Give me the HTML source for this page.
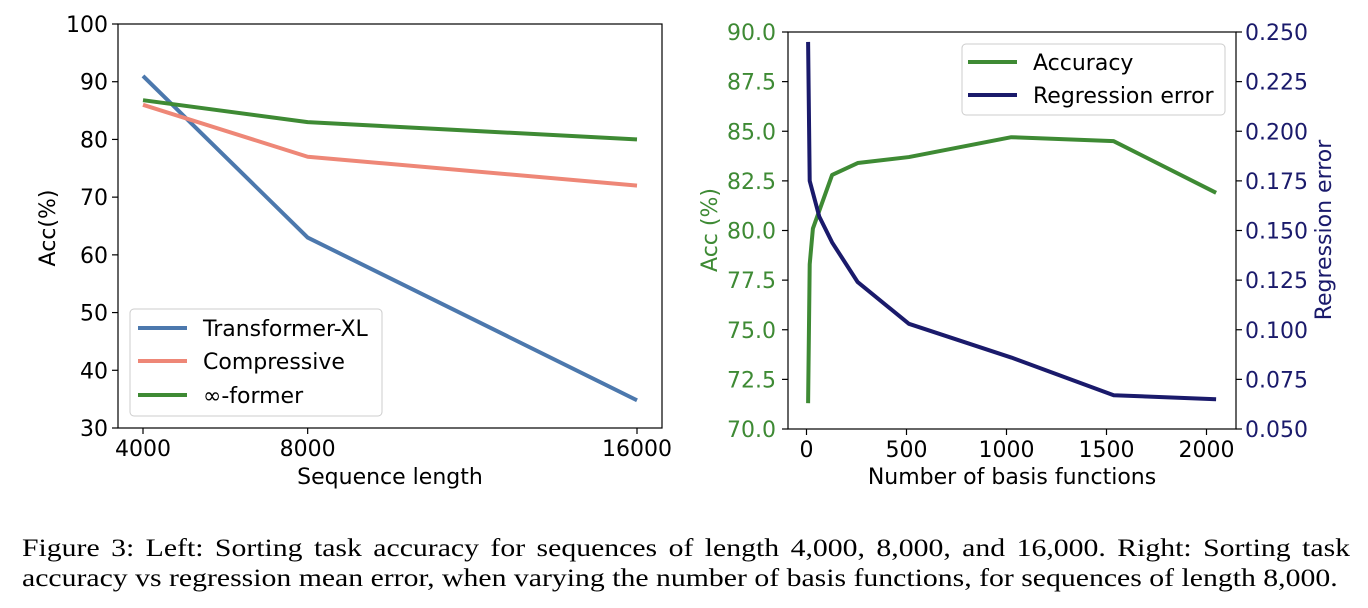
<!DOCTYPE html>
<html><head><meta charset="utf-8"><style>
body{margin:0;background:#fff;width:1368px;height:608px;overflow:hidden}
svg text{font-family:"DejaVu Sans","Liberation Sans",sans-serif}
.cap{position:absolute;left:22px;width:1116px;font-family:"Liberation Serif",serif;font-size:25px;line-height:30px;color:#000;white-space:nowrap;transform:scaleX(1.19);transform-origin:0 0}
.l1{top:534px;text-align:justify;text-align-last:justify}
.l2{top:564px}
</style></head><body>
<svg id="fig" width="1368" height="608" style="position:absolute;left:0;top:0"></svg>
<div class="cap l1">Figure 3: Left: Sorting task accuracy for sequences of length 4,000, 8,000, and 16,000. Right: Sorting task</div>
<div class="cap l2">accuracy vs regression mean error, when varying the number of basis functions, for sequences of length 8,000.</div>
<script>
const leftX=[4000,8000,16000];
const txl=[91,63,34.8];
const comp=[86,77,72];
const inf=[86.8,83,80];
const leftYTicks=[30,40,50,60,70,80,90,100];
const basisX=[8,16,32,128,256,512,1024,1536,2048];
const accY=[71.3,78.3,80.1,82.8,83.4,83.7,84.7,84.5,81.9];
const regX=[8,16,64,128,256,512,1024,1536,2048];
const regY=[0.245,0.175,0.157,0.144,0.124,0.103,0.086,0.067,0.065];
const rightXTicks=[0,500,1000,1500,2000];
const accTicks=[70,72.5,75,77.5,80,82.5,85,87.5,90];
const regTicks=[0.05,0.075,0.1,0.125,0.15,0.175,0.2,0.225,0.25];

const svg=document.getElementById('fig');
const NS='http://www.w3.org/2000/svg';
function mk(tag,a,txt){const e=document.createElementNS(NS,tag);for(const k in a)e.setAttribute(k,a[k]);if(txt!==undefined)e.textContent=txt;svg.appendChild(e);return e;}

const lx=v=>143+(v-4000)*(637-143)/12000;
const ly=v=>428-(v-30)*404/70;
let e=mk('rect',{x:118,y:24,width:544,height:404,fill:'none',stroke:'#000','stroke-width':1.2});


leftYTicks.forEach(t=>{
  const l=mk('line',{x1:112,x2:118,y1:ly(t),y2:ly(t),stroke:'#000','stroke-width':1.2});
  
  
  const tx=mk('text',{x:108,y:ly(t)+8,'text-anchor':'end','font-size':22},String(t));
  
  
});
leftX.forEach(t=>{
  const l=mk('line',{x1:lx(t),x2:lx(t),y1:428,y2:434,stroke:'#000','stroke-width':1.2});
  
  
  const tx=mk('text',{x:lx(t),y:456,'text-anchor':'middle','font-size':22},String(t));
  
  
});
function series(xs,ys,fx,fy,col,name){
  const p=mk('polyline',{points:xs.map((x,i)=>fx(x)+','+fy(ys[i])).join(' '),fill:'none',stroke:col,'stroke-width':4,'stroke-linejoin':'round'});
  
  
}
series(leftX,txl,lx,ly,'#4c78ad','transformer-xl-line');
series(leftX,comp,lx,ly,'#ee8777','compressive-line');
series(leftX,inf,lx,ly,'#3e8a34','infinity-former-line');
e=mk('text',{x:0,y:0,'font-size':22,'text-anchor':'middle',transform:'translate(55,228) rotate(-90)'},'Acc(%)');


e=mk('text',{x:390,y:484,'font-size':22,'text-anchor':'middle'},'Sequence length');


e=mk('rect',{x:130,y:309,width:252,height:107,rx:4,fill:'#fff','fill-opacity':0.85,stroke:'#ccc','stroke-width':1});


[['Transformer-XL','#4c78ad',328],['Compressive','#ee8777',361],['∞-former','#3e8a34',395]].forEach(d=>{
  const l=mk('line',{x1:138,x2:187,y1:d[2],y2:d[2],stroke:d[1],'stroke-width':4});
  
  
  const t=mk('text',{x:203,y:d[2]+8,'font-size':22},d[0]);
  
  
});

const rx=v=>806.5+v*0.2;
const ry=v=>429-(v-70)*397/20;
const ry2=v=>429-(v-0.05)*397/0.2;
e=mk('rect',{x:788,y:32,width:448,height:397,fill:'none',stroke:'#000','stroke-width':1.2});


accTicks.forEach(t=>{
  const l=mk('line',{x1:782,x2:788,y1:ry(t),y2:ry(t),stroke:'#000','stroke-width':1.2});
  
  
  const tx=mk('text',{x:776,y:ry(t)+8,'text-anchor':'end','font-size':22,fill:'#3e8a34'},t.toFixed(1));
  
  
});
regTicks.forEach(t=>{
  const l=mk('line',{x1:1236,x2:1242,y1:ry2(t),y2:ry2(t),stroke:'#000','stroke-width':1.2});
  
  
  const tx=mk('text',{x:1245,y:ry2(t)+8,'font-size':22,fill:'#1a1a6b'},t.toFixed(3));
  
  
});
rightXTicks.forEach(t=>{
  const l=mk('line',{x1:rx(t),x2:rx(t),y1:429,y2:435,stroke:'#000','stroke-width':1.2});
  
  
  const tx=mk('text',{x:rx(t),y:457,'text-anchor':'middle','font-size':22},String(t));
  
  
});
series(basisX,accY,rx,ry,'#3e8a34','accuracy-line');
series(regX,regY,rx,ry2,'#1a1a6b','regression-error-line');
e=mk('text',{x:0,y:0,'font-size':22,'text-anchor':'middle',fill:'#3e8a34',transform:'translate(717,230) rotate(-90)'},'Acc (%)');


e=mk('text',{x:0,y:0,'font-size':22,'text-anchor':'middle',fill:'#1a1a6b',transform:'translate(1331,230) rotate(-90)'},'Regression error');


e=mk('text',{x:1012,y:484,'font-size':22,'text-anchor':'middle'},'Number of basis functions');


e=mk('rect',{x:962,y:44,width:263,height:71,rx:4,fill:'#fff','fill-opacity':0.85,stroke:'#ccc','stroke-width':1});


[['Accuracy','#3e8a34',62],['Regression error','#1a1a6b',95]].forEach(d=>{
  const l=mk('line',{x1:968,x2:1017,y1:d[2],y2:d[2],stroke:d[1],'stroke-width':4});
  
  
  const t=mk('text',{x:1033,y:d[2]+8,'font-size':22},d[0]);
  
  
});
</script>
</body></html>
